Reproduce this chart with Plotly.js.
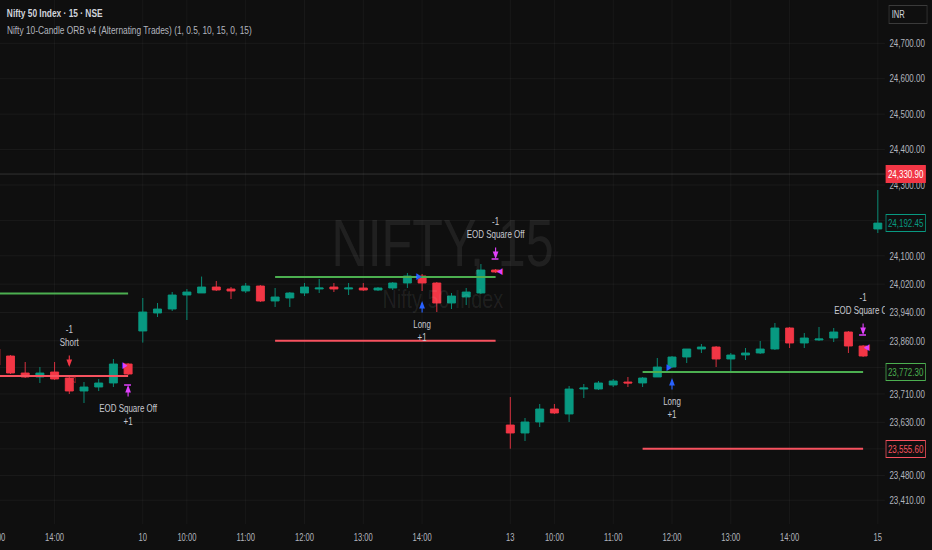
<!DOCTYPE html>
<html><head><meta charset="utf-8">
<script src="https://cdn.plot.ly/plotly-3.0.1.min.js"></script>
<style>
html,body{margin:0;padding:0;background:#0f0f0f;overflow:hidden;}
#wrap{width:932px;height:550px;overflow:hidden;}
#chart{width:1226px;height:550px;transform-origin:0 0;}
</style>
</head><body><div id="wrap"><div id="chart"></div></div>
<script>
// ---------- categories ----------
const sessionTimes = ["09:15","09:30","09:45","10:00","10:15","10:30","10:45","11:00","11:15","11:30","11:45","12:00","12:15","12:30","12:45","13:00","13:15","13:30","13:45","14:00","14:15","14:30","14:45","15:00","15:15"];
const day09 = sessionTimes.slice(15).map(t => "09 " + t);
const day10 = sessionTimes.map(t => "10 " + t);
const day13 = sessionTimes.map(t => "13 " + t);
const day15 = sessionTimes.slice(0, 1).map(t => "15 " + t);
const times = day09.concat(day10, day13, day15);

// ---------- OHLC (15 min) ----------
const open  = [23837.0,23817.2,23769.2,23757.9,23772.0,23755.1,23718.4,23729.7,23741.0,23794.6,
  23887.8,23938.6,23949.9,23989.4,23995.1,24012.0,24006.4,24000.7,24014.8,23972.5,23981.0,23995.1,24006.4,24012.0,24006.4,24009.2,24003.5,24009.2,24023.3,24043.1,24023.3,23966.8,23983.8,23995.1,24060.0,
  23622.4,23599.8,23630.9,23667.6,23653.5,23724.0,23724.0,23735.3,23743.8,23741.0,23757.9,23786.1,23814.4,23837.0,23842.6,23808.7,23820.0,23825.7,23837.0,23896.3,23853.9,23862.4,23868.0,23885.0,23845.4,
  24175.8];
const high  = [23842.6,23820.0,23800.3,23786.1,23800.3,23757.9,23743.8,23752.3,23808.7,23797.4,
  23981.0,23966.8,23997.9,24006.4,24041.5,24029.0,24012.0,24023.3,24017.7,24009.2,23997.9,24023.3,24034.6,24023.3,24023.3,24023.3,24012.0,24026.1,24051.5,24048.7,24026.1,23995.1,24009.2,24076.9,24062.8,
  23701.4,23642.2,23681.7,23681.7,23732.5,23738.2,23746.6,23752.3,23757.9,23757.9,23811.6,23817.2,23837.0,23851.1,23845.4,23825.7,23839.8,23859.6,23910.4,23899.1,23882.1,23899.1,23896.3,23887.8,23848.3,
  24285.9];
const low   = [23786.1,23766.4,23755.1,23741.0,23749.4,23709.9,23684.5,23718.4,23729.7,23763.6,
  23855.0,23927.3,23944.3,23918.8,23995.1,24000.7,23978.1,23995.1,23969.7,23955.6,23955.6,23986.6,23995.1,23997.9,23989.4,24000.7,24000.7,24003.5,24009.2,24000.7,23941.4,23949.9,23961.2,23992.2,24051.5,
  23555.6,23577.2,23616.7,23653.5,23630.9,23698.6,23721.2,23729.7,23729.7,23729.7,23757.9,23783.3,23797.4,23825.7,23786.1,23774.9,23805.9,23822.9,23834.1,23839.8,23839.8,23859.6,23856.7,23825.7,23814.4,
  24164.5];
const close = [23791.8,23769.2,23757.9,23769.2,23752.3,23718.4,23729.7,23741.0,23794.6,23766.4,
  23941.4,23949.9,23989.4,23997.9,24012.0,24003.5,24000.7,24014.8,23972.5,23983.8,23995.1,24012.0,24009.2,24006.4,24009.2,24003.5,24009.2,24023.3,24043.1,24023.3,23966.8,23986.6,23997.9,24060.0,24054.4,
  23599.8,23630.9,23667.6,23656.3,23724.0,23726.9,23741.0,23746.6,23741.0,23755.1,23786.1,23814.4,23837.0,23842.6,23808.7,23820.0,23825.7,23837.0,23896.3,23853.9,23868.0,23865.2,23885.0,23845.4,23817.2,
  24192.45];

// ---------- ORB levels ----------
const orbStart = [0, 19, 44];
const orbEnd   = [9, 34, 59];
const orbHigh  = [23994.0, 24040.0, 23772.30];
const orbLow   = [23761.0, 23860.0, 23555.60];

// ---------- signals ----------
const sigIdx   = [5, 9, 29, 34, 46, 59];
const sigSide  = ["above", "below", "below", "above", "below", "above"];
const sigLine1 = ["-1", "EOD Square Off", "Long", "-1", "Long", "-1"];
const sigLine2 = ["Short", "+1", "+1", "EOD Square Off", "+1", "EOD Square Off"];
const sigColor = ["#f23645", "#e040fb", "#2962ff", "#e040fb", "#2962ff", "#e040fb"];
const sigBar   = [false, true, false, true, false, true];

// entry / exit triangles
const mkIdx   = [5, 9, 29, 34, 46, 59];
const mkPrice = [23753, 23793, 24042, 24058, 23787, 23844];
const mkGlyph = ["◁", "▶", "▶", "◀", "▶", "◀"];
const mkColor = ["#f23645", "#e040fb", "#2962ff", "#e040fb", "#2962ff", "#e040fb"];
const mkShift = [3, -3, -3, 4, -3, 4];

// ---------- axis ----------
const yTickVals = [24700,24600,24500,24400,24300,24200,24100,24020,23940,23860,23785,23710,23630,23555,23480,23410];
const xTickIdx  = [4, 10, 13, 17, 21, 25, 29, 35, 38, 42, 46, 50, 54, 60];
const xTickText = ["14:00","10","10:00","11:00","12:00","13:00","14:00","13","10:00","11:00","12:00","13:00","14:00","15"];
const refPrice  = 24330.90;
const lastPrice = 24192.45;

const yRange = [23342.9, 24822.3];
const xRange = [0.286, 60.48];
const W = 1226, H = 550;
const S = 932 / W;                  // horizontal squeeze of the picture
document.getElementById("chart").style.transform = "scaleX(" + S + ")";
const M = {l: 0, r: Math.round(47 / S), t: 0, b: 26};
const plotH = H - M.t - M.b;
const ppx = (yRange[1] - yRange[0]) / plotH; // price per pixel
const hx = v => v / S;              // horizontal pixel in final picture -> layout pixel

const TEAL = "#089981", RED = "#f23645", GREEN = "#4caf50", LRED = "#f7525f";
const FONT = "Liberation Sans, Arial, sans-serif";
const fmt = v => v.toLocaleString("en-US", {minimumFractionDigits: 2, maximumFractionDigits: 2});

const traces = [];
traces.push({
  type: "candlestick", x: times, open: open, high: high, low: low, close: close,
  increasing: {line: {color: TEAL, width: 1}, fillcolor: TEAL},
  decreasing: {line: {color: RED, width: 1}, fillcolor: RED},
  whiskerwidth: 0, hoverinfo: "skip"
});
for (let d = 0; d < orbStart.length; d++) {
  const xs = [times[orbStart[d]], times[orbEnd[d]]];
  traces.push({type: "scatter", mode: "lines", x: xs, y: [orbHigh[d], orbHigh[d]], line: {color: GREEN, width: 2}, hoverinfo: "skip"});
  traces.push({type: "scatter", mode: "lines", x: xs, y: [orbLow[d], orbLow[d]], line: {color: LRED, width: 2}, hoverinfo: "skip"});
}
// signal texts and arrows
const tx = [], ty = [], tt = [];
const annotations = [];
for (let i = 0; i < sigIdx.length; i++) {
  const k = sigIdx[i], c = times[k];
  let tip;
  if (sigSide[i] === "above") {
    tx.push(c, c); ty.push(high[k] + 47 * ppx, high[k] + 34 * ppx); tt.push(sigLine1[i], sigLine2[i]);
    tip = high[k] + 10 * ppx;
  } else {
    tx.push(c, c); ty.push(low[k] - 34 * ppx, low[k] - 47 * ppx); tt.push(sigLine1[i], sigLine2[i]);
    tip = low[k] - 10 * ppx;
  }
  annotations.push({x: c, y: tip, xref: "x", yref: "y", text: "", showarrow: true, ax: 0,
    ay: sigSide[i] === "above" ? -13 : 13, arrowhead: 2, arrowsize: 1, arrowwidth: 1.5, arrowcolor: sigColor[i]});
  if (sigBar[i]) {
    annotations.push({x: c, y: tip, xref: "x", yref: "y", text: "", showarrow: true, ax: hx(8), ay: 0, xshift: -hx(4),
      arrowhead: 0, arrowwidth: 1.5, arrowcolor: sigColor[i]});
  }
}
traces.push({type: "scatter", mode: "text", x: tx, y: ty, text: tt, textposition: "middle center",
  textfont: {family: FONT, size: 10.5, color: "#c7c9cf"}, cliponaxis: true, hoverinfo: "skip"});

for (let i = 0; i < mkIdx.length; i++) {
  annotations.push({x: times[mkIdx[i]], y: mkPrice[i], xref: "x", yref: "y", text: mkGlyph[i], showarrow: false,
    xshift: hx(mkShift[i]), font: {family: "DejaVu Sans", size: 9, color: mkColor[i]}});
}

// watermark
annotations.push({xref: "paper", yref: "paper", x: 0.5, y: 1 - 243 / plotH, text: "NIFTY, 15", showarrow: false,
  font: {family: FONT, size: 66, color: "rgba(255,255,255,0.075)"}});
annotations.push({xref: "paper", yref: "paper", x: 0.5, y: 1 - 299 / plotH, text: "Nifty 50 Index", showarrow: false,
  font: {family: FONT, size: 26, color: "rgba(255,255,255,0.075)"}});
// header
annotations.push({xref: "paper", yref: "paper", x: 0, y: 1, xanchor: "left", yanchor: "middle", xshift: hx(5), yshift: -13,
  text: "<b>Nifty 50 Index · 15 · NSE</b>", showarrow: false, font: {family: FONT, size: 11, color: "#d1d4dc"}});
annotations.push({xref: "paper", yref: "paper", x: 0, y: 1, xanchor: "left", yanchor: "middle", xshift: hx(5), yshift: -30,
  text: "Nifty 10-Candle ORB v4 (Alternating Trades) (1, 0.5, 10, 15, 0, 15)", showarrow: false, font: {family: FONT, size: 11, color: "#b2b5be"}});
// cut off time label on the left edge
annotations.push({xref: "paper", yref: "paper", x: 0, y: 0, xanchor: "center", xshift: -hx(4), yanchor: "middle", yshift: -13,
  text: "13:00", showarrow: false, font: {family: FONT, size: 10, color: "#b2b5be"}});
// price-scale badges
annotations.push({xref: "paper", yref: "paper", x: 1, y: 1, xanchor: "left", yanchor: "top", xshift: hx(4), yshift: -5,
  text: "INR", showarrow: false, font: {family: FONT, size: 10, color: "#d1d4dc"},
  bgcolor: "#0f0f0f", bordercolor: "#3a3a3a", borderwidth: 1, borderpad: 3, width: hx(33), align: "left"});
const badge = (v, bg, bc, fc) => ({xref: "paper", yref: "y", x: 1, y: v, xanchor: "left", xshift: hx(1), text: fmt(v), showarrow: false,
  font: {family: FONT, size: 10.5, color: fc}, bgcolor: bg, bordercolor: bc, borderwidth: 1, borderpad: 2});
annotations.push(badge(refPrice, RED, RED, "#ffffff"));
annotations.push(badge(lastPrice, "#0f0f0f", TEAL, TEAL));
annotations.push(badge(orbHigh[2], "#0f0f0f", GREEN, GREEN));
annotations.push(badge(orbLow[2], "#0f0f0f", LRED, LRED));

const layout = {
  width: W, height: H, margin: M, showlegend: false, boxgap: 0.22,
  paper_bgcolor: "#0f0f0f", plot_bgcolor: "#0f0f0f",
  xaxis: {type: "category", range: xRange, rangeslider: {visible: false}, tickvals: xTickIdx.map(i => times[i]), ticktext: xTickText,
    showgrid: true, gridcolor: "rgba(242,242,242,0.05)", ticks: "", zeroline: false, showline: false,
    tickfont: {family: FONT, size: 10, color: "#b2b5be"}, ticklabelstandoff: 6},
  yaxis: {side: "right", range: yRange, tickvals: yTickVals, ticktext: yTickVals.map(fmt),
    showgrid: true, gridcolor: "rgba(242,242,242,0.06)", ticks: "", zeroline: false, showline: false,
    tickfont: {family: FONT, size: 10.5, color: "#b2b5be"}, ticklabelstandoff: Math.round(hx(4))},
  shapes: [{type: "line", xref: "paper", x0: 0, x1: 1, yref: "y", y0: refPrice, y1: refPrice,
    line: {color: "rgba(200,200,200,0.22)", width: 1}}],
  annotations: annotations
};
Plotly.newPlot("chart", traces, layout, {staticPlot: true, displayModeBar: false});
</script></body></html>
